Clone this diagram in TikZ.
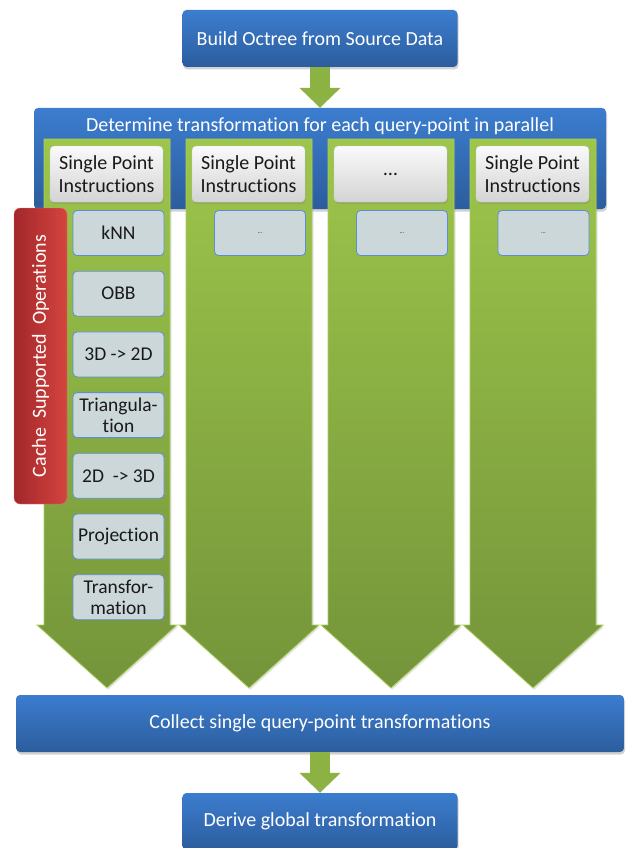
\documentclass[tikz,border=0pt]{standalone}
\usepackage{fontspec}
\setmainfont{Carlito}[Ligatures=NoCommon]
\usetikzlibrary{positioning, arrows.meta, calc, shadows}
\definecolor{boxblue}{HTML}{3C7DCF}
\definecolor{boxbluedark}{HTML}{2C5D9D}
\definecolor{arrowgreen}{HTML}{9DC64B}
\definecolor{arrowgreendark}{HTML}{74943A}
\definecolor{arrowedge}{HTML}{A9CF5E}
\definecolor{opfill}{HTML}{CCD7DA}
\definecolor{opedge}{HTML}{5B8ED6}
\definecolor{cachered}{HTML}{D4443F}
\definecolor{cachereddark}{HTML}{A2272A}
\tikzset{
    stage/.style={rounded corners=4pt, top color=boxblue, bottom color=boxbluedark, text=white, inner sep=0pt,
        font=\fontsize{20}{24}\selectfont, drop shadow={opacity=0.35, shadow xshift=1pt, shadow yshift=-2.5pt}},
    worker/.style={top color=arrowgreen, bottom color=arrowgreendark, draw=arrowedge, line width=0.8pt,
        drop shadow={opacity=0.2, shadow xshift=1.5pt, shadow yshift=-1.5pt}},
    instr/.style={rounded corners=4pt, top color=black!2, bottom color=black!17, draw=black!20, minimum width=113pt,
        minimum height=56pt, inner sep=0pt, align=center, text=black!90, font=\fontsize{20}{23}\selectfont,
        drop shadow={opacity=0.3, shadow xshift=1pt, shadow yshift=-2pt}},
    op/.style={rounded corners=4pt, fill=opfill, draw=opedge, line width=0.8pt, minimum width=91pt, minimum height=45pt,
        inner sep=0pt, align=center, text=black!90, font=\fontsize{19.5}{21}\selectfont},
    cache/.style={rounded corners=6pt, rotate=90, left color=cachereddark, right color=cachered, draw=cachered!70!white,
        minimum width=296pt, minimum height=53pt, inner sep=0pt, text=white, font=\fontsize{20}{24}\selectfont},
    flow/.style={line width=20pt, arrowgreen!90!black, -{Triangle[length=20pt, width=40pt]}},
}

\begin{document}
\begin{tikzpicture}[x=1pt, y=-1pt]
    \path[use as bounding box, fill=white] (0,0) rectangle (625,848);

    % --- Stages ---
    \node (octree) [stage, minimum width=275pt, minimum height=57pt] at (320,38.5) {Build Octree from Source Data};
    \node (determine) [stage, minimum width=572pt, minimum height=101pt] at (320,158.5) {};
    \node (determinetitle) [text=white, font=\fontsize{20}{24}\selectfont] at (320,126) {Determine transformation for each query-point in parallel};

    % --- Parallel workers ---
    \foreach \cx in {107,249,391,533} {
        \path[worker] (\cx-63,139) -- (\cx+63,139) -- (\cx+63,625) -- (\cx+70,625) -- (\cx,688)
            -- (\cx-70,625) -- (\cx-63,625) -- cycle;
    }
    \node (instr1) [instr] at (106.5,174) {Single Point\\Instructions};
    \node (instr2) [instr] at (248.5,174) {Single Point\\Instructions};
    \node (instr3) [instr] at (390.5,174) {\dots};
    \node (instr4) [instr] at (532.5,174) {Single Point\\Instructions};

    % --- Operations ---
    \foreach \txt [count=\k from 0] in {kNN, OBB, {3D -> 2D}, {Triangula-\\tion}, {2D~~-> 3D}, Projection, {Transfor-\\mation}} {
        \node (op\k) [op] at (118.5,233+60.7*\k) {\txt};
    }
    \node (opB) [op, font=\fontsize{6}{7}\selectfont] at (260,233) {…};
    \node (opC) [op, font=\fontsize{6}{7}\selectfont] at (402,233) {…};
    \node (opD) [op, font=\fontsize{6}{7}\selectfont] at (543.5,233) {…};

    \node (cache) [cache] at (40.5,356) {Cache~~Supported~~Operations};

    % --- Collection ---
    \node (collect) [stage, minimum width=608pt, minimum height=57pt] at (320,723.5) {Collect single query-point transformations};
    \node (derive) [stage, minimum width=275pt, minimum height=57pt] at (320,821.5) {Derive global transformation};

    % --- Flow arrows ---
    \draw[flow] (octree) -- (determine);
    \draw[flow] (collect) -- (derive);
\end{tikzpicture}
\end{document}
